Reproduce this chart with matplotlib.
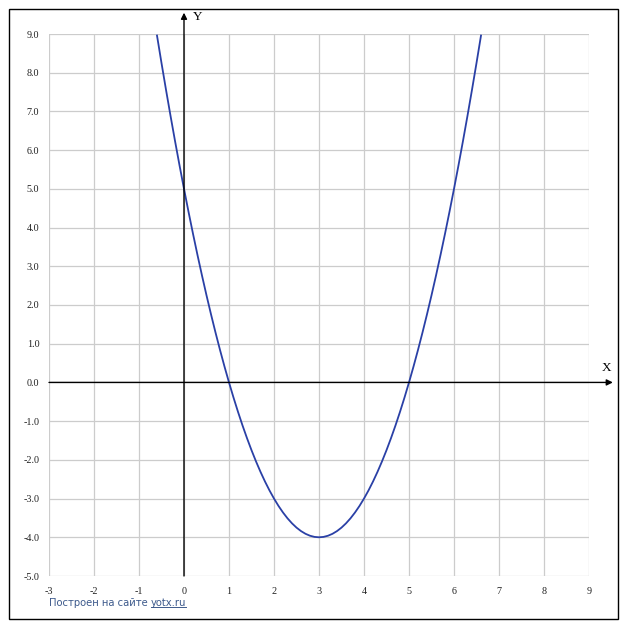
import matplotlib
matplotlib.use('Agg')
from matplotlib import pyplot as plt
from matplotlib.lines import Line2D
from matplotlib.patches import Rectangle

# values
x = [-0.6, -0.5, -0.4, -0.3, -0.2, -0.1, 0.0, 0.1, 0.2, 0.3, 0.4, 0.5,
     0.6, 0.7, 0.8, 0.9, 1.0, 1.1, 1.2, 1.3, 1.4, 1.5, 1.6, 1.7, 1.8,
     1.9, 2.0, 2.1, 2.2, 2.3, 2.4, 2.5, 2.6, 2.7, 2.8, 2.9, 3.0, 3.1,
     3.2, 3.3, 3.4, 3.5, 3.6, 3.7, 3.8, 3.9, 4.0, 4.1, 4.2, 4.3, 4.4,
     4.5, 4.6, 4.7, 4.8, 4.9, 5.0, 5.1, 5.2, 5.3, 5.4, 5.5, 5.6, 5.7,
     5.8, 5.9, 6.0, 6.1, 6.2, 6.3, 6.4, 6.5, 6.6]
y = [8.96, 8.25, 7.56, 6.89, 6.24, 5.61, 5.0, 4.41, 3.84, 3.29, 2.76,
     2.25, 1.76, 1.29, 0.84, 0.41, 0.0, -0.39, -0.76, -1.11, -1.44, -1.75,
     -2.04, -2.31, -2.56, -2.79, -3.0, -3.19, -3.36, -3.51, -3.64, -3.75,
     -3.84, -3.91, -3.96, -3.99, -4.0, -3.99, -3.96, -3.91, -3.84, -3.75,
     -3.64, -3.51, -3.36, -3.19, -3.0, -2.79, -2.56, -2.31, -2.04, -1.75,
     -1.44, -1.11, -0.76, -0.39, 0.0, 0.41, 0.84, 1.29, 1.76, 2.25, 2.76,
     3.29, 3.84, 4.41, 5.0, 5.61, 6.24, 6.89, 7.56, 8.25, 8.96]

xticks = list(range(-3, 10))
yticks = list(range(-5, 10))
ytick_labels = ['%.1f' % v for v in yticks]

W, H = 627, 630
fig = plt.figure(figsize=(W / 100, H / 100), dpi=100)
ax = fig.add_axes([49 / W, 54 / H, 540 / W, 542 / H])
ax.set_xlim(-3, 9)
ax.set_ylim(-5, 9)
for s in ax.spines.values():
    s.set_visible(False)
ax.set_xticks(xticks)
ax.set_xticklabels([str(v) for v in xticks], fontfamily='Liberation Serif', fontsize=7.3)
ax.set_yticks(yticks)
ax.set_yticklabels(ytick_labels, fontfamily='Liberation Serif', fontsize=7.3)
ax.tick_params(length=0, pad=7, colors='#222222')
ax.tick_params(axis='x', pad=8)
ax.grid(True, color='#cccccc', linewidth=0.9)
ax.set_axisbelow(True)

# axes with arrows
ax.annotate('', xy=(0, 9.55), xytext=(0, -5), annotation_clip=False,
            arrowprops=dict(arrowstyle='-|>', color='black', lw=1.0,
                            mutation_scale=9, shrinkA=0, shrinkB=0))
ax.annotate('', xy=(9.53, 0), xytext=(-3, 0), annotation_clip=False,
            arrowprops=dict(arrowstyle='-|>', color='black', lw=1.0,
                            mutation_scale=9, shrinkA=0, shrinkB=0))
ax.text(0.3, 9.45, 'Y', fontfamily='Liberation Serif', fontsize=9.5,
        va='center', ha='center', clip_on=False)
ax.text(9.4, 0.38, 'X', fontfamily='Liberation Serif', fontsize=9.5,
        va='center', ha='center', clip_on=False)

ax.plot(x, y, color='#2a40a6', linewidth=1.3)

# outer frame
fig.patches.append(Rectangle((9 / W, 1 - 619 / H), 609 / W, 610 / H,
                             transform=fig.transFigure, fill=False,
                             edgecolor='black', linewidth=1.0))

# footer
t1 = fig.text(49 / W, 1 - 603 / H, 'Построен на сайте ', fontsize=7.2,
              color='#3d5a8c', va='center', fontfamily='DejaVu Sans')
fig.canvas.draw()
bb = t1.get_window_extent()
t2 = fig.text(bb.x1 / W, 1 - 603 / H, 'yotx.ru', fontsize=7.2,
              color='#3d5a8c', va='center', fontfamily='DejaVu Sans')
fig.canvas.draw()
bb2 = t2.get_window_extent()
fig.lines.append(Line2D([bb2.x0 / W, bb2.x1 / W], [(bb2.y0 + 1) / H] * 2,
                        transform=fig.transFigure, color='#3d5a8c', linewidth=0.7))

fig.savefig('out.png', dpi=100)
